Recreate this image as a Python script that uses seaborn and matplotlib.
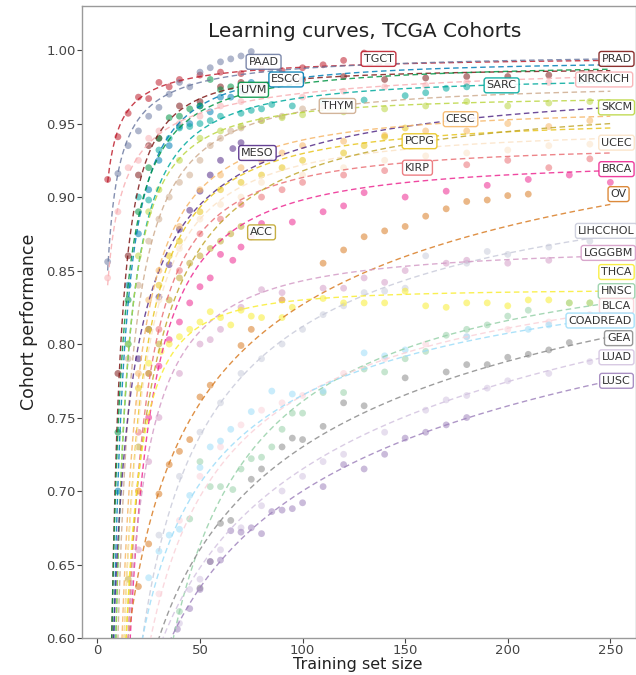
import numpy as np
import pandas as pd
import matplotlib
matplotlib.use("Agg")
import matplotlib.pyplot as plt
import seaborn as sns

# ---------------- data ----------------
cohorts = ["TGCT", "PRAD", "PAAD", "ESCC", "UVM", "KIRCKICH", "SARC", "THYM", "SKCM",
           "MESO", "CESC", "PCPG", "UCEC", "KIRP", "ACC", "BRCA", "OV", "LIHCCHOL",
           "LGGGBM", "THCA", "HNSC", "BLCA", "COADREAD", "GEA", "LUAD", "LUSC"]
colors = ["#BE1E2D", "#7E1918", "#6E7BA2", "#007EB5", "#009444", "#F8AFB3", "#00A99D",
          "#CEAC8F", "#BBD642", "#542C88", "#F6B667", "#E8C51D", "#FBE3C7", "#EA7075",
          "#C1A72F", "#ED2891", "#D97D25", "#CACCDB", "#D49DC7", "#F9ED32", "#97D1A9",
          "#FAD2D9", "#9EDDF9", "#8C8C8C", "#D3C3E0", "#A084BD"]

# three read points on each fitted learning curve (training size, performance)
fit_x1 = [5, 7, 5, 8, 7, 5, 9, 10, 9, 17, 12, 13, 13, 15, 14, 16, 15, 22, 15, 14, 37, 26, 22, 30, 32, 36]
fit_y1 = [0.910, 0.600, 0.850, 0.600, 0.600, 0.840, 0.600, 0.600, 0.600, 0.774, 0.600, 0.600, 0.600,
          0.600, 0.600, 0.600, 0.600, 0.600, 0.600, 0.600, 0.600, 0.600, 0.600, 0.600, 0.600, 0.600]
fit_x2 = [50, 50, 50, 50, 50, 50, 50, 50, 50, 60, 50, 50, 50, 50, 50, 50, 55, 128, 80, 40, 83, 100, 128, 100, 100, 100]
fit_y2 = [0.982, 0.967, 0.978, 0.962, 0.958, 0.957, 0.945, 0.930, 0.938, 0.907, 0.905, 0.893, 0.885,
          0.875, 0.865, 0.855, 0.770, 0.832, 0.835, 0.800, 0.740, 0.765, 0.782, 0.730, 0.715, 0.700]
fit_x3 = [250] * 26
fit_y3 = [0.993, 0.986, 0.994, 0.990, 0.987, 0.982, 0.978, 0.972, 0.966, 0.961, 0.955, 0.947, 0.940,
          0.930, 0.950, 0.918, 0.895, 0.874, 0.860, 0.836, 0.828, 0.822, 0.818, 0.805, 0.792, 0.775]

# label positions
label_x = [137, 253, 81, 92, 76, 247, 197, 117, 253, 78, 177, 157, 253, 156, 80, 253, 254, 248,
           249, 253, 253, 253, 245, 254, 253, 253]
label_y = [0.994, 0.994, 0.992, 0.980, 0.973, 0.980, 0.976, 0.962, 0.961, 0.930, 0.953, 0.938, 0.937,
           0.920, 0.876, 0.919, 0.902, 0.877, 0.862, 0.849, 0.836, 0.826, 0.816, 0.804, 0.791, 0.775]

# observed points
TGCT_x = [5, 10, 15, 20, 25, 30, 35, 40, 50, 60, 70, 80, 90, 100, 110, 120, 130]
TGCT_y = [0.912, 0.941, 0.957, 0.968, 0.967, 0.978, 0.975, 0.980, 0.983, 0.985, 0.984, 0.987, 0.986, 0.988, 0.990, 0.993, 0.998]
PRAD_x = [10, 15, 20, 25, 30, 40, 50, 60, 70, 80, 100, 120, 140, 160, 180, 200, 220, 240]
PRAD_y = [0.780, 0.860, 0.915, 0.935, 0.940, 0.962, 0.965, 0.975, 0.978, 0.976, 0.980, 0.982, 0.980, 0.981, 0.982, 0.982, 0.983, 0.983]
PAAD_x = [5, 10, 15, 20, 25, 30, 35, 40, 45, 50, 55, 60, 65, 70, 75]
PAAD_y = [0.856, 0.916, 0.935, 0.945, 0.955, 0.961, 0.970, 0.978, 0.975, 0.985, 0.988, 0.992, 0.994, 0.996, 0.999]
ESCC_x = [10, 15, 20, 25, 30, 35, 40, 45, 50, 55, 60, 65, 70, 75]
ESCC_y = [0.700, 0.840, 0.875, 0.905, 0.925, 0.935, 0.948, 0.950, 0.962, 0.958, 0.968, 0.968, 0.972, 0.978]
UVM_x = [10, 15, 20, 25, 30, 35, 40, 45, 50, 55, 60, 65]
UVM_y = [0.740, 0.830, 0.890, 0.920, 0.940, 0.954, 0.955, 0.960, 0.962, 0.980, 0.973, 0.975]
KIRCKICH_x = [5, 10, 15, 20, 25, 30, 40, 50, 60, 70, 80, 100, 120, 140, 160, 180, 200, 220, 240]
KIRCKICH_y = [0.845, 0.890, 0.920, 0.925, 0.940, 0.945, 0.950, 0.955, 0.962, 0.965, 0.970, 0.968, 0.972, 0.975, 0.976, 0.978, 0.979, 0.978, 0.980]
SARC_x = [15, 20, 25, 30, 35, 40, 45, 50, 55, 60, 70, 75, 80, 85, 95, 110, 130, 150, 160, 170, 180]
SARC_y = [0.800, 0.900, 0.898, 0.932, 0.940, 0.947, 0.948, 0.950, 0.952, 0.955, 0.957, 0.959, 0.960, 0.963, 0.962, 0.965, 0.966, 0.969, 0.971, 0.974, 0.975]
THYM_x = [15, 20, 25, 30, 35, 40, 45, 50, 55, 60, 65, 70, 80, 90, 100, 110]
THYM_y = [0.790, 0.840, 0.870, 0.885, 0.900, 0.910, 0.915, 0.925, 0.935, 0.940, 0.945, 0.947, 0.952, 0.955, 0.960, 0.962]
SKCM_x = [15, 20, 25, 30, 40, 50, 60, 70, 80, 90, 100, 120, 140, 160, 180, 200, 220, 240]
SKCM_y = [0.800, 0.860, 0.890, 0.905, 0.925, 0.940, 0.945, 0.948, 0.952, 0.954, 0.956, 0.958, 0.960, 0.962, 0.965, 0.962, 0.964, 0.965]
MESO_x = [20, 25, 30, 35, 40, 45, 50, 55, 60, 66, 70]
MESO_y = [0.790, 0.810, 0.832, 0.854, 0.878, 0.891, 0.904, 0.915, 0.925, 0.933, 0.937]
CESC_x = [20, 25, 30, 40, 50, 60, 70, 80, 90, 100, 120, 140, 160, 180, 200, 220, 240]
CESC_y = [0.780, 0.830, 0.850, 0.880, 0.905, 0.915, 0.920, 0.925, 0.930, 0.935, 0.938, 0.942, 0.945, 0.945, 0.950, 0.948, 0.952]
PCPG_x = [20, 25, 30, 35, 40, 50, 60, 70, 80, 90, 100, 120, 130, 140, 150]
PCPG_y = [0.770, 0.810, 0.840, 0.860, 0.870, 0.890, 0.905, 0.910, 0.915, 0.920, 0.925, 0.930, 0.935, 0.941, 0.947]
UCEC_x = [20, 30, 40, 50, 60, 70, 80, 100, 120, 140, 160, 180, 200, 220, 240]
UCEC_y = [0.760, 0.830, 0.865, 0.885, 0.895, 0.900, 0.910, 0.915, 0.920, 0.925, 0.928, 0.930, 0.932, 0.935, 0.936]
KIRP_x = [20, 25, 30, 40, 50, 60, 70, 80, 90, 100, 120, 140, 160, 180, 200, 220, 240]
KIRP_y = [0.740, 0.780, 0.810, 0.850, 0.875, 0.885, 0.895, 0.900, 0.905, 0.910, 0.915, 0.918, 0.920, 0.922, 0.925, 0.920, 0.926]
ACC_x = [15, 20, 25, 30, 35, 40, 45, 50, 55, 60, 65, 70]
ACC_y = [0.640, 0.730, 0.780, 0.800, 0.830, 0.845, 0.855, 0.860, 0.865, 0.870, 0.875, 0.880]
BRCA_x = [20, 25, 30, 35, 40, 45, 50, 55, 60, 66, 70, 75, 80, 95, 110, 120, 130, 150, 170, 190, 210, 230, 250]
BRCA_y = [0.700, 0.750, 0.785, 0.803, 0.815, 0.828, 0.839, 0.845, 0.861, 0.857, 0.866, 0.873, 0.882, 0.883, 0.890, 0.894, 0.903, 0.900, 0.904, 0.908, 0.912, 0.915, 0.910]
OV_x = [20, 25, 30, 35, 40, 45, 50, 55, 70, 75, 90, 110, 120, 130, 140, 150, 160, 170, 180, 190, 200, 210]
OV_y = [0.635, 0.664, 0.698, 0.718, 0.727, 0.735, 0.764, 0.772, 0.799, 0.810, 0.830, 0.855, 0.864, 0.873, 0.877, 0.880, 0.887, 0.892, 0.897, 0.898, 0.901, 0.902]
LIHCCHOL_x = [30, 40, 50, 60, 70, 80, 90, 100, 110, 120, 130, 140, 150, 160, 180, 190, 200, 220, 240]
LIHCCHOL_y = [0.670, 0.710, 0.740, 0.760, 0.780, 0.790, 0.800, 0.810, 0.820, 0.826, 0.835, 0.836, 0.838, 0.860, 0.855, 0.863, 0.861, 0.866, 0.870]
LGGGBM_x = [20, 25, 30, 40, 50, 55, 60, 70, 80, 90, 110, 120, 130, 140, 150, 170, 180, 200, 220, 240]
LGGGBM_y = [0.660, 0.720, 0.750, 0.780, 0.800, 0.803, 0.810, 0.825, 0.837, 0.835, 0.838, 0.838, 0.845, 0.842, 0.850, 0.855, 0.857, 0.855, 0.857, 0.860]
THCA_x = [20, 25, 31, 35, 40, 45, 50, 55, 60, 65, 70, 75, 80, 90, 95, 110, 120, 130, 140, 150, 160, 170, 180, 190, 200, 210, 220, 230, 240]
THCA_y = [0.700, 0.787, 0.795, 0.800, 0.805, 0.810, 0.815, 0.822, 0.818, 0.813, 0.823, 0.819, 0.818, 0.818, 0.825, 0.831, 0.828, 0.828, 0.828, 0.836, 0.826, 0.825, 0.828, 0.828, 0.826, 0.830, 0.830, 0.828, 0.828]
HNSC_x = [40, 45, 50, 55, 60, 66, 70, 75, 80, 85, 90, 95, 100, 110, 120, 130, 140, 150, 160, 170, 180, 190, 200, 210, 230, 240]
HNSC_y = [0.618, 0.681, 0.720, 0.703, 0.703, 0.701, 0.715, 0.722, 0.723, 0.730, 0.742, 0.753, 0.753, 0.767, 0.767, 0.783, 0.781, 0.790, 0.795, 0.806, 0.810, 0.813, 0.819, 0.823, 0.828, 0.828]
BLCA_x = [30, 40, 50, 60, 70, 80, 90, 100, 120, 140, 160, 180, 200, 220, 240]
BLCA_y = [0.630, 0.680, 0.710, 0.730, 0.745, 0.755, 0.760, 0.765, 0.780, 0.790, 0.800, 0.805, 0.810, 0.815, 0.820]
COADREAD_x = [25, 30, 35, 40, 45, 50, 55, 60, 65, 75, 85, 95, 110, 130, 140, 150, 180, 210, 220]
COADREAD_y = [0.641, 0.659, 0.670, 0.674, 0.697, 0.716, 0.730, 0.734, 0.742, 0.754, 0.768, 0.766, 0.768, 0.794, 0.792, 0.796, 0.805, 0.810, 0.813]
GEA_x = [50, 55, 60, 65, 75, 80, 90, 95, 100, 110, 120, 130, 150, 170, 180, 190, 200, 210, 220, 230]
GEA_y = [0.634, 0.652, 0.678, 0.680, 0.708, 0.715, 0.730, 0.736, 0.735, 0.744, 0.760, 0.758, 0.777, 0.781, 0.786, 0.786, 0.791, 0.793, 0.796, 0.801]
LUAD_x = [40, 45, 50, 60, 70, 80, 90, 100, 110, 120, 140, 160, 170, 180, 190, 200, 220, 240]
LUAD_y = [0.610, 0.633, 0.640, 0.660, 0.675, 0.690, 0.700, 0.710, 0.720, 0.725, 0.740, 0.755, 0.762, 0.765, 0.770, 0.775, 0.780, 0.788]
LUSC_x = [39, 45, 50, 55, 60, 65, 70, 75, 80, 85, 90, 95, 100, 110, 120, 130, 140, 150, 160, 170, 180]
LUSC_y = [0.606, 0.620, 0.633, 0.652, 0.653, 0.673, 0.672, 0.675, 0.671, 0.686, 0.687, 0.688, 0.692, 0.703, 0.718, 0.715, 0.725, 0.736, 0.740, 0.745, 0.750]

xticks = [0, 50, 100, 150, 200, 250]
yticks = [0.60, 0.65, 0.70, 0.75, 0.80, 0.85, 0.90, 0.95, 1.00]

# ---------------- build tables ----------------
g = globals()
rows = []
for name in cohorts:
    for xv, yv in zip(g[name + "_x"], g[name + "_y"]):
        rows.append((name, xv, yv))
pts = pd.DataFrame(rows, columns=["cohort", "size", "perf"])


def fit_power(x1, y1, x2, y2, x3, y3):
    """y = a - b * x**(-c) through three points."""
    r = (y2 - y1) / (y3 - y2)

    def ratio(c):
        if abs(c) < 1e-6:
            return np.log(x2 / x1) / np.log(x3 / x2)
        return (x1 ** -c - x2 ** -c) / (x2 ** -c - x3 ** -c)

    lo, hi = -3.0, 10.0
    for _ in range(200):
        mid = 0.5 * (lo + hi)
        if ratio(mid) < r:
            lo = mid
        else:
            hi = mid
    c = 0.5 * (lo + hi)
    if abs(c) < 1e-6:
        c = 1e-6
    b = (y2 - y1) / (x1 ** -c - x2 ** -c)
    a = y1 + b * x1 ** -c
    return a, b, c


xs = np.linspace(5, 250, 600)
crows = []
for i, name in enumerate(cohorts):
    a, b, c = fit_power(fit_x1[i], fit_y1[i], fit_x2[i], fit_y2[i], fit_x3[i], fit_y3[i])
    ys = a - b * xs ** (-c)
    ys = np.clip(ys, 0.3, 1.2)
    for xv, yv in zip(xs, ys):
        crows.append((name, xv, yv))
curves = pd.DataFrame(crows, columns=["cohort", "size", "perf"])

palette = dict(zip(cohorts, colors))

# ---------------- plot ----------------
sns.set_style("white")
plt.rcParams["font.family"] = ["DejaVu Sans"]

fig = plt.figure(figsize=(6.36, 6.75), dpi=100)
ax = fig.add_axes([82 / 636, 37 / 675, (636 - 82) / 636, 632 / 675])

sns.scatterplot(data=pts, x="size", y="perf", hue="cohort", palette=palette,
                s=24, alpha=0.55, edgecolor="none", legend=False, ax=ax, zorder=2)
sns.lineplot(data=curves, x="size", y="perf", hue="cohort", palette=palette,
             linewidth=1.0, alpha=0.85, legend=False, ax=ax, zorder=3,
             estimator=None, sort=False)
for ln in ax.get_lines():
    ln.set_linestyle((0, (4, 2.5)))

for i, name in enumerate(cohorts):
    ax.text(label_x[i], label_y[i], name, ha="center", va="center", fontsize=8,
            color="#333333", zorder=5,
            bbox=dict(boxstyle="round,pad=0.22", facecolor="white", edgecolor=colors[i],
                      linewidth=1.0, alpha=0.9))

ax.set_xlim(-7.5, 262.5)
ax.set_ylim(0.6, 1.03)
ax.set_xticks(xticks)
ax.set_yticks(yticks)
ax.set_yticklabels([f"{t:.2f}" for t in yticks])
ax.tick_params(axis="both", labelsize=9.5, colors="#444444", length=3.5, width=0.8,
               direction="out", bottom=True, left=True, pad=1)
for sp in ax.spines.values():
    sp.set_color("#9a9a9a")
    sp.set_linewidth(1.0)

ax.set_xlabel("Training set size", fontsize=11.5, color="#222222")
ax.xaxis.set_label_coords(0.498, -0.030)
ax.set_ylabel("Cohort performance", fontsize=12.5, color="#222222", labelpad=6)
ax.text(0.511, 0.960, "Learning curves, TCGA Cohorts", transform=ax.transAxes,
        ha="center", va="center", fontsize=14.5, color="#222222")

fig.savefig("out.png", dpi=100)
